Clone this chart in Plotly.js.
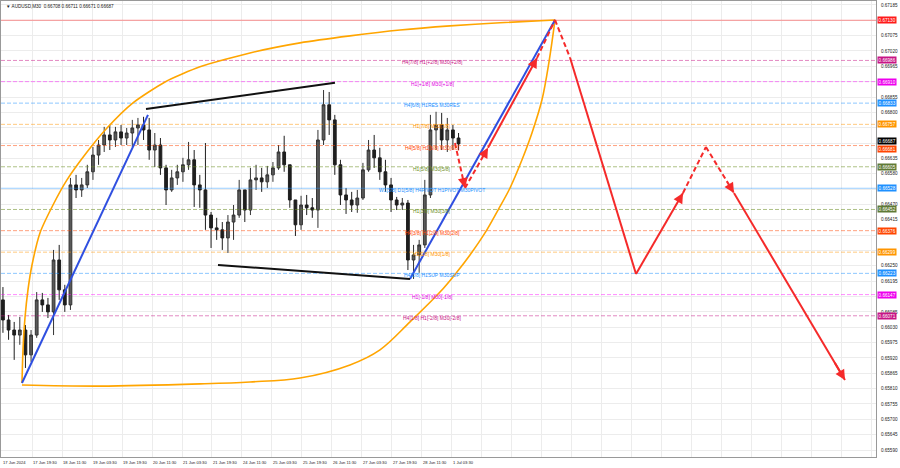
<!DOCTYPE html>
<html><head><meta charset="utf-8">
<script src="https://cdn.plot.ly/plotly-3.0.1.min.js"></script>
<style>html,body{margin:0;padding:0;background:#fff;}#chart{width:900px;height:468px;}</style>
</head><body><div id="chart"></div>
<script>
// ---------- data ----------
const symbolTitle = "AUDUSD,M30";
const lastBarOHLC = [0.66708, 0.66711, 0.66671, 0.66687];
const currentPrice = 0.66687;

// 3-hour candles (6 x M30 bars each)
const candleOpen = [0.66128,0.66056,0.66020,0.66002,0.66020,0.65931,0.66002,0.66128,0.66110,0.66085,
0.66271,0.66164,0.66110,0.66540,0.66522,0.66540,0.66587,0.66647,0.66683,0.66719,
0.66701,0.66730,0.66708,0.66726,0.66744,0.66755,0.66737,0.66665,0.66683,0.66601,
0.66522,0.66565,0.66587,0.66612,0.66630,0.66540,0.66522,0.66432,0.66386,0.66379,
0.66350,0.66407,0.66432,0.66522,0.66450,0.66558,0.66565,0.66551,0.66576,0.66601,
0.66658,0.66612,0.66486,0.66397,0.66468,0.66458,0.66450,0.66701,0.66827,0.66773,
0.66612,0.66504,0.66486,0.66468,0.66493,0.66594,0.66665,0.66637,0.66587,0.66540,
0.66486,0.66468,0.66475,0.66271,0.66289,0.66325,0.66504,0.66737,0.66755,0.66701,
0.66737,0.66708];
const candleHigh = [0.66174,0.66074,0.66049,0.66067,0.66038,0.66020,0.66156,0.66153,0.66135,0.66307,
0.66325,0.66182,0.66565,0.66576,0.66565,0.66612,0.66676,0.66701,0.66748,0.66755,
0.66748,0.66755,0.66744,0.66773,0.66780,0.66784,0.66780,0.66726,0.66708,0.66612,
0.66594,0.66612,0.66637,0.66694,0.66665,0.66576,0.66690,0.66443,0.66422,0.66407,
0.66432,0.66468,0.66558,0.66522,0.66601,0.66612,0.66601,0.66608,0.66622,0.66683,
0.66716,0.66612,0.66486,0.66501,0.66504,0.66493,0.66737,0.66880,0.66873,0.66791,
0.66630,0.66529,0.66515,0.66522,0.66619,0.66701,0.66719,0.66673,0.66630,0.66565,
0.66497,0.66493,0.66486,0.66325,0.66343,0.66558,0.66791,0.66802,0.66798,0.66780,
0.66755,0.66726];
const candleLow = [0.66010,0.65985,0.65913,0.65967,0.65884,0.65906,0.65992,0.66085,0.66063,0.66002,
0.66128,0.66085,0.66092,0.66493,0.66497,0.66529,0.66558,0.66612,0.66658,0.66665,
0.66676,0.66683,0.66683,0.66676,0.66683,0.66701,0.66630,0.66604,0.66576,0.66468,
0.66515,0.66540,0.66551,0.66594,0.66461,0.66458,0.66379,0.66314,0.66343,0.66307,
0.66296,0.66343,0.66422,0.66407,0.66432,0.66522,0.66515,0.66529,0.66551,0.66594,
0.66587,0.66458,0.66357,0.66379,0.66432,0.66422,0.66386,0.66683,0.66719,0.66576,
0.66468,0.66436,0.66443,0.66440,0.66486,0.66587,0.66601,0.66558,0.66515,0.66443,
0.66450,0.66450,0.66235,0.66203,0.66225,0.66314,0.66493,0.66665,0.66665,0.66658,
0.66665,0.66665];
const candleClose = [0.66056,0.66020,0.66002,0.66020,0.65931,0.66002,0.66128,0.66110,0.66085,0.66271,
0.66164,0.66110,0.66540,0.66522,0.66540,0.66587,0.66647,0.66683,0.66719,0.66701,
0.66730,0.66708,0.66726,0.66744,0.66755,0.66737,0.66665,0.66683,0.66601,0.66522,
0.66565,0.66587,0.66612,0.66630,0.66540,0.66522,0.66432,0.66386,0.66379,0.66350,
0.66407,0.66432,0.66522,0.66450,0.66558,0.66565,0.66551,0.66576,0.66601,0.66658,
0.66612,0.66486,0.66397,0.66468,0.66458,0.66450,0.66701,0.66827,0.66773,0.66612,
0.66504,0.66486,0.66468,0.66493,0.66594,0.66665,0.66637,0.66587,0.66540,0.66486,
0.66468,0.66475,0.66271,0.66289,0.66325,0.66504,0.66737,0.66755,0.66701,0.66737,
0.66708,0.66687];
const barsPerCandle = 6;

// time axis labels, one every 32 M30 bars
const timeLabels = ["17 Jun 2024","17 Jun 19:30","18 Jun 11:30","19 Jun 03:30","19 Jun 19:30",
"20 Jun 11:30","21 Jun 03:30","21 Jun 19:30","24 Jun 11:30","25 Jun 03:30","25 Jun 19:30",
"26 Jun 11:30","27 Jun 03:30","27 Jun 19:30","28 Jun 11:30","1 Jul 03:30"];
const barsPerLabel = 32;

// price scale: grid values and the labels visible beside them (blank = hidden behind a price box)
const priceGrid = [0.65590,0.65645,0.65700,0.65755,0.65810,0.65865,0.65920,0.65975,0.66030,0.66085,
0.66140,0.66195,0.66250,0.66305,0.66360,0.66415,0.66470,0.66525,0.66580,0.66635,
0.66690,0.66745,0.66800,0.66855,0.66910,0.66965,0.67020,0.67075,0.67130,0.67185];
const priceGridLabels = ["0.65590","0.65645","0.65700","0.65755","0.65810","0.65865","0.65920","0.65975","0.66030","0.66085",
"","0.66195","0.66250","","","0.66415","0.66470","","0.66580","0.66635",
"","","0.66800","0.66855","","0.66965","0.67020","0.67075","","0.67185"];

// Murrey-math style levels
const levelPrices = [0.67130,0.66986,0.66910,0.66833,0.66757,0.66681,0.66605,0.66528,0.66452,0.66376,0.66299,0.66223,0.66147,0.66071];
const levelNames = ["","H4[7/8] H1[+2/8] M30[+2/8]","H1[+1/8] M30[+1/8]","H4[6/8] H1RES M30RES",
"H1[7/8] M30[7/8]","H4[5/8] H1[6/8] M30[6/8]","H1[5/8] M30[5/8]","W1[5/8] D1[5/8] H4PIVOT H1PIVOT M30PIVOT",
"H1[3/8] M30[3/8]","H4[3/8] H1[2/8] M30[2/8]","H1[1/8] M30[1/8]","H4[2/8] H1SUP M30SUP",
"H1[-1/8] M30[-1/8]","H4[1/8] H1[-2/8] M30[-2/8]"];

// trend lines (x in M30 bar index, y in price)
const blueLine1Bars = [21.3, 155.7],  blueLine1Prices = [0.65830, 0.66791];
const blueLine2Bars = [435.2, 589.9], blueLine2Prices = [0.66203, 0.67131];
const blackUpperBars = [153.6, 355.2], blackUpperPrices = [0.66812, 0.66906];
const blackLowerBars = [230.4, 435.2], blackLowerPrices = [0.66253, 0.66203];

// orange arcs
const arcUpperBars = [21.3,22.4,24.5,27.7,32.0,40.5,54.4,69.3,90.7,112.0,139.7,173.9,211.2,264.5,317.9,371.2,424.5,477.9,531.2,589.9];
const arcUpperPrices = [0.65830,0.65949,0.66063,0.66164,0.66253,0.66368,0.66468,0.66558,0.66658,0.66744,0.66834,0.66909,0.66963,0.67013,0.67049,0.67074,0.67095,0.67110,0.67121,0.67131];
const arcLowerBars = [21.3,104.5,211.2,264.5,317.9,371.2,403.2,435.2,467.2,485.3,499.2,515.2,529.1,541.9,554.7,565.3,576.0,583.5,589.9];
const arcLowerPrices = [0.65823,0.65819,0.65827,0.65834,0.65848,0.65895,0.65949,0.66049,0.66156,0.66228,0.66289,0.66368,0.66450,0.66529,0.66630,0.66726,0.66845,0.66981,0.67131];

// red forecast path
const forecastBars = [483.2,493.9,518.4,570.7,589.9,606.0,676.3,726.4,750.9,780.8,899.2];
const forecastPrices = [0.66690,0.66529,0.66673,0.66995,0.67131,0.66995,0.66221,0.66511,0.66676,0.66511,0.65841];

// ---------- styles ----------
const levelLineColors = ["rgba(255,60,60,0.55)","rgba(199,21,133,0.5)","rgba(255,0,255,0.45)","rgba(30,144,255,0.5)",
"rgba(255,150,0,0.5)","rgba(255,69,0,0.5)","rgba(107,142,35,0.55)","rgba(30,144,255,0.45)","rgba(107,142,35,0.55)",
"rgba(255,69,0,0.5)","rgba(255,150,0,0.5)","rgba(30,144,255,0.5)","rgba(255,0,255,0.45)","rgba(199,21,133,0.5)"];
const levelTextColors = ["#ff0000","#c71585","#e000e0","#1e90ff","#ff9500","#ff4500","#6b8e23","#1e90ff","#6b8e23","#ff4500","#ff9500","#1e90ff","#e000e0","#c71585"];
const levelBoxColors = ["#ff1a1a","#c71585","#ee00ee","#1e90ff","#ff9500","#ff4500","#5f7a36","#1e90ff","#5f7a36","#ff4500","#ff9500","#1e90ff","#ee00ee","#c71585"];
const levelDash = ["solid","4px,2px","4px,2px","4px,2px","4px,2px","4px,2px","4px,2px","solid","4px,2px","4px,2px","4px,2px","4px,2px","4px,2px","4px,2px"];
const segDash = ["5px,3px","5px,3px","solid","5px,3px","5px,3px","solid","solid","5px,3px","5px,3px","solid"];
const segArrow = [1,1,1,0,1,0,1,0,1,1];
const RED = "#f52a2a";

const X0 = -1.07, X1 = 932.3;
const FONT = "Liberation Sans, Arial, sans-serif";

// ---------- traces ----------
const traces = [];
levelPrices.forEach((p, i) => {
  traces.push({type:"scatter", mode:"lines", x:[X0, X1], y:[p, p], hoverinfo:"skip", showlegend:false,
    line:{color:levelLineColors[i], width:1, dash:levelDash[i]}});
});

const candleX = candleOpen.map((_, k) => k * barsPerCandle + 1);
traces.push({type:"candlestick", x:candleX, open:candleOpen, high:candleHigh, low:candleLow, close:candleClose,
  increasing:{line:{color:"#333333", width:1}, fillcolor:"#5a5a5a"},
  decreasing:{line:{color:"#1e1e1e", width:1}, fillcolor:"#1e1e1e"},
  whiskerwidth:0, hoverinfo:"skip", showlegend:false});

function lineTrace(xs, ys, color, width, shape, smoothing) {
  return {type:"scatter", mode:"lines", x:xs, y:ys, hoverinfo:"skip", showlegend:false,
    line:{color:color, width:width, shape:shape || "linear", smoothing:smoothing || 1}};
}
traces.push(lineTrace(arcUpperBars, arcUpperPrices, "#ffa500", 1.6, "spline", 0.6));
traces.push(lineTrace(arcLowerBars, arcLowerPrices, "#ffa500", 1.6, "spline", 1));
traces.push(lineTrace(blueLine1Bars, blueLine1Prices, "#2f4fe0", 2));
traces.push(lineTrace(blueLine2Bars, blueLine2Prices, "#2f4fe0", 2));
traces.push(lineTrace(blackUpperBars, blackUpperPrices, "#111111", 2));
traces.push(lineTrace(blackLowerBars, blackLowerPrices, "#111111", 2));

const annotations = [];
for (let i = 0; i < forecastBars.length - 1; i++) {
  traces.push({type:"scatter", mode:"lines",
    x:[forecastBars[i], forecastBars[i+1]], y:[forecastPrices[i], forecastPrices[i+1]],
    hoverinfo:"skip", showlegend:false,
    line:{color:RED, width:2, dash:segDash[i]}});
  if (segArrow[i]) {
    const tx = forecastBars[i+1], ty = forecastPrices[i+1];
    const f = 0.1;
    annotations.push({xref:"x", yref:"y", axref:"x", ayref:"y", x:tx, y:ty,
      ax:tx - f * (tx - forecastBars[i]), ay:ty - f * (ty - forecastPrices[i]),
      showarrow:true, arrowhead:2, arrowsize:1, arrowwidth:2, arrowcolor:RED, text:""});
  }
}

// ---------- annotations ----------
annotations.push({xref:"paper", yref:"paper", x:0, y:1, xanchor:"left", yanchor:"top", xshift:3, yshift:-1,
  showarrow:false, text:"\u25BC " + symbolTitle + "  " + lastBarOHLC.map(v => v.toFixed(5)).join(" "),
  font:{family:FONT, size:4.6, color:"#222"}});

timeLabels.forEach((t, i) => {
  annotations.push({xref:"x", yref:"paper", x:i * barsPerLabel, y:0, xanchor:"left", yanchor:"top", yshift:-1, xshift:-1,
    showarrow:false, text:t, font:{family:FONT, size:4.1, color:"#222"}});
});

levelPrices.forEach((p, i) => {
  if (levelNames[i]) {
    annotations.push({xref:"x", yref:"y", x:459, y:p, xanchor:"center", yanchor:"middle", yshift:-2,
      showarrow:false, text:levelNames[i], font:{family:FONT, size:5, color:levelTextColors[i]}});
  }
});

// right-hand price boxes
const boxPrices = [currentPrice].concat(levelPrices);
const boxColors = ["#000000"].concat(levelBoxColors);
const boxShift = [3, 0,0,0,0,0,-3,0,0,0,0,0,0,0,0];
boxPrices.forEach((p, i) => {
  annotations.push({xref:"paper", yref:"y", x:1, y:p, xanchor:"left", yanchor:"middle", xshift:1, yshift:boxShift[i],
    showarrow:false, text:p.toFixed(5), bgcolor:boxColors[i], borderpad:0.6,
    font:{family:FONT, size:4.6, color:"#fff"}});
});

const layout = {
  width:900, height:468,
  margin:{l:1, r:24, t:1, b:11, pad:0},
  paper_bgcolor:"#fff", plot_bgcolor:"#fff",
  showlegend:false,
  xaxis:{type:"linear", range:[X0, X1], tick0:0, dtick:barsPerLabel, showgrid:true, gridcolor:"#ececec",
    showticklabels:false, zeroline:false, showline:true, linecolor:"#999", mirror:true, ticks:"",
    rangeslider:{visible:false}, fixedrange:true},
  yaxis:{side:"right", range:[0.65565, 0.67199], tickmode:"array", tickvals:priceGrid, ticktext:priceGridLabels,
    showgrid:true, gridcolor:"#ececec", zeroline:false, showline:true, linecolor:"#999", mirror:true,
    ticks:"", ticklabelstandoff:3, tickfont:{family:FONT, size:4.6, color:"#222"}, fixedrange:true},
  annotations:annotations
};

Plotly.newPlot("chart", traces, layout, {staticPlot:true, displayModeBar:false});
</script>
</body></html>
